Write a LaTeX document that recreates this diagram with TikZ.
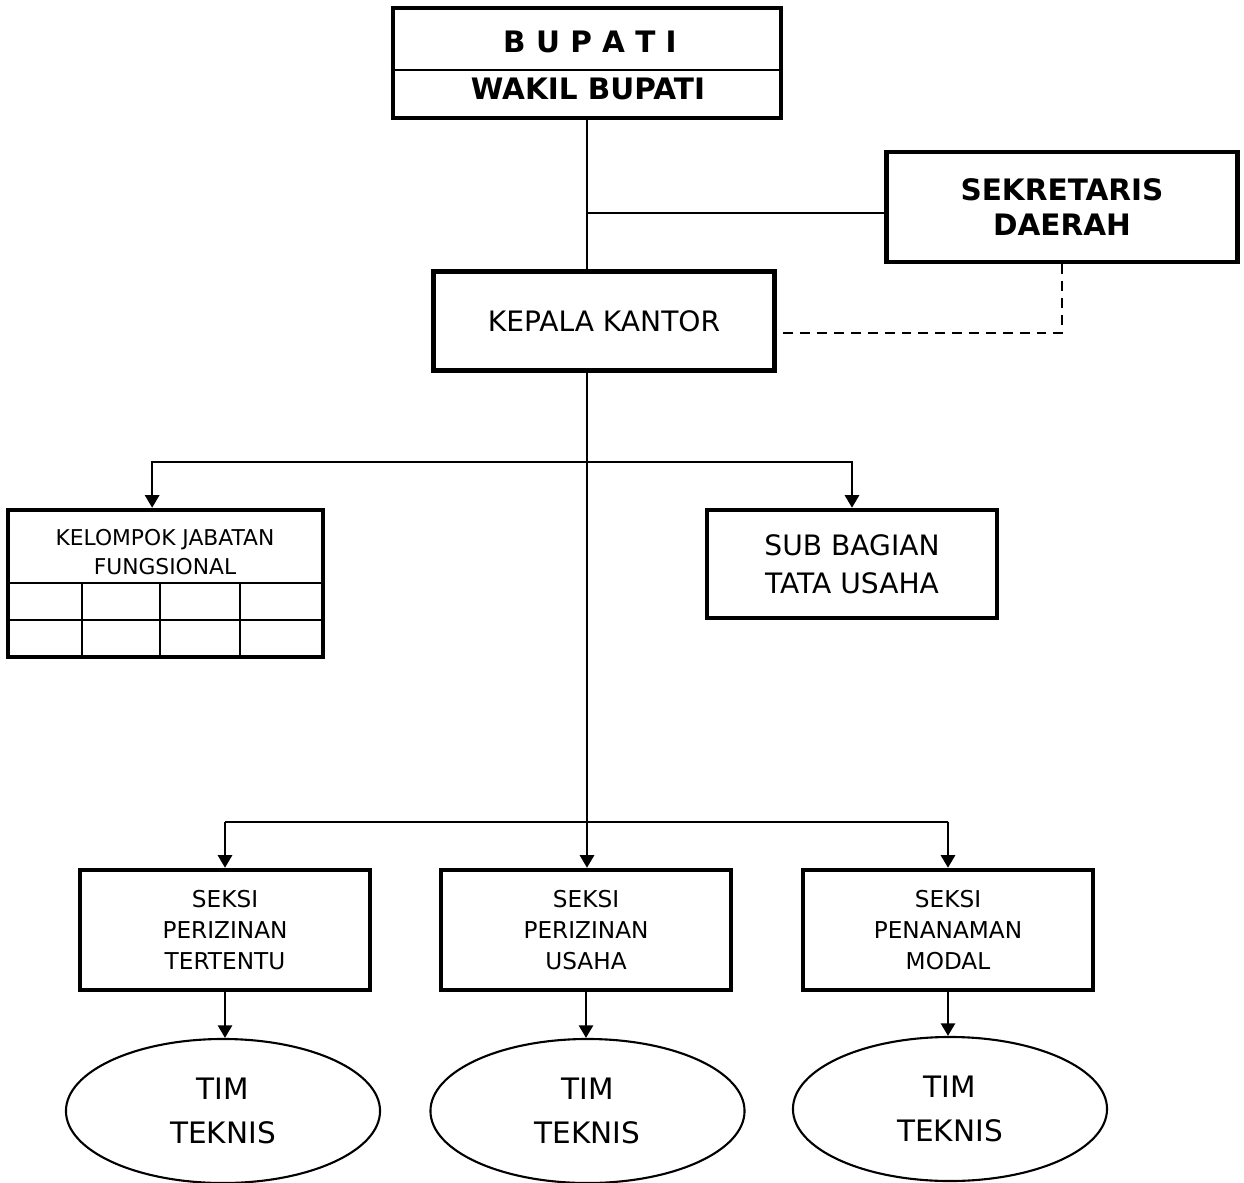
\documentclass[tikz,border=0pt]{standalone}
\usepackage{fontspec}
\setmainfont{DejaVu Sans}
\usetikzlibrary{arrows.meta,shapes.geometric}

\tikzset{
    box/.style={draw, line width=3.1pt, inner sep=0pt, align=center},
    tim/.style={draw, ellipse, line width=1.5pt, inner sep=0pt, align=center,
        minimum width=7.85cm, minimum height=3.6cm},
    seksi/.style={box, minimum width=7.25cm, minimum height=3cm,
        font=\fontsize{16.5}{22}\selectfont},
    link/.style={line width=1.9pt},
    arr/.style={link, -{Triangle[length=9pt,width=10pt]}}
}

\begin{document}
\begin{tikzpicture}[x=0.025cm, y=-0.025cm]
        \useasboundingbox (0,0) rectangle (1244,1183);
        % top level
        \node[box, minimum width=9.7cm, minimum height=2.75cm] (bupati) at (587,63) {};
        \draw[line width=1.6pt] (bupati.west |- 0,70) -- (bupati.east |- 0,70);
        \node[font=\fontsize{21}{25}\bfseries] (bupatitxt) at (590,42) {B U P A T I};
        \node[font=\fontsize{21}{25}\bfseries] (wakiltxt) at (588,89) {WAKIL BUPATI};
        \node[box, minimum width=8.775cm, minimum height=2.75cm,
            font=\fontsize{21}{25}\bfseries\selectfont] (sekda) at (1062,207) {SEKRETARIS\\DAERAH};
        \node[box, minimum width=8.525cm, minimum height=2.475cm,
            font=\fontsize{20}{24}\selectfont] (kepala) at (604,321) {KEPALA KANTOR};
        \coordinate (jsekda) at (588,213);
        \draw[link] (bupati.south) -- (bupati.south |- kepala.north);
        \draw[link] (jsekda) -- (jsekda -| sekda.west);
        \draw[link, dashed, dash pattern=on 7pt off 5pt] (sekda.south) |- ([yshift=-8.5pt]kepala.east);
        % staff
        \node[box, minimum width=7.875cm, minimum height=3.675cm] (kjf) at (165.5,583.5) {};
        \node[font=\fontsize{15.5}{20}\selectfont, align=center] (kjftxt) at (165,552) {KELOMPOK JABATAN\\FUNGSIONAL};
        \draw[line width=1.6pt] (kjf.west |- 0,583) -- (kjf.east |- 0,583)
            (kjf.west |- 0,620) -- (kjf.east |- 0,620);
        \foreach \gx in {82,160,240}
            \draw[line width=1.6pt] (\gx,583) -- (\gx,657);
        \node[box, minimum width=7.25cm, minimum height=2.7cm,
            font=\fontsize{20}{27}\selectfont] (sub) at (852,564) {SUB BAGIAN\\TATA USAHA};
        \coordinate (jstaf) at (588,462);
        \draw[arr] (jstaf) -| ([xshift=-9.5pt]kjf.north);
        \draw[arr] (jstaf) -| (sub.north);
        % seksi
        \node[seksi] (s1) at (225,930) {SEKSI\\PERIZINAN\\TERTENTU};
        \node[seksi] (s2) at (586,930) {SEKSI\\PERIZINAN\\USAHA};
        \node[seksi] (s3) at (948,930) {SEKSI\\PENANAMAN\\MODAL};
        \coordinate (jseksi) at (588,822);
        \draw[arr] (bupati.south |- kepala.south) -- (bupati.south |- s2.north);
        \draw[link] (jseksi) -- (jseksi -| s1.north);
        \draw[link] (jseksi) -- (jseksi -| s3.north);
        \draw[arr] (jseksi -| s1.north) -- (s1.north);
        \draw[arr] (jseksi -| s3.north) -- (s3.north);
        % tim teknis
        \node[tim, font=\fontsize{21}{31}\selectfont] (t1) at (223,1111) {TIM\\TEKNIS};
        \node[tim, font=\fontsize{21}{31}\selectfont] (t2) at (587.5,1111) {TIM\\TEKNIS};
        \node[tim, font=\fontsize{21}{31}\selectfont] (t3) at (950,1109) {TIM\\TEKNIS};
        \foreach \i in {1,2,3}
            \draw[arr] (s\i.south) -- (s\i.south |- t\i.north);
    \end{tikzpicture}
\end{document}
